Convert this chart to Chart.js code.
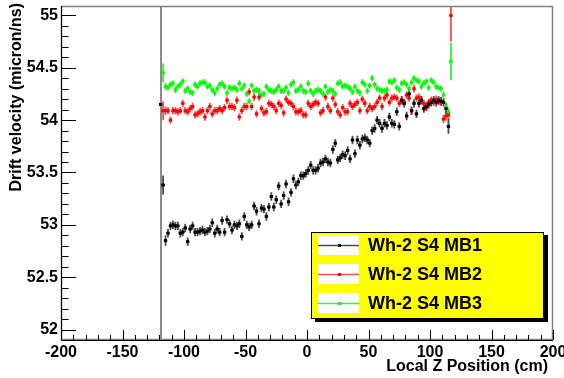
<!DOCTYPE html>
<html>
<head>
<meta charset="utf-8">
<script src="https://cdn.jsdelivr.net/npm/chart.js@4.4.1/dist/chart.umd.min.js"></script>
<style>
  html, body { margin: 0; padding: 0; background: #fff; }
  canvas { display: block; }
</style>
</head>
<body>
<canvas id="chart" width="564" height="378"></canvas>
<script>
// Bin centres along Local Z (cm), 2 cm bins
const zBins = [
  -119, -117, -115, -113, -111, -109, -107, -105, -103, -101,
  -99, -97, -95, -93, -91, -89, -87, -85, -83, -81,
  -79, -77, -75, -73, -71, -69, -67, -65, -63, -61,
  -59, -57, -55, -53, -51, -49, -47, -45, -43, -41,
  -39, -37, -35, -33, -31, -29, -27, -25, -23, -21,
  -19, -17, -15, -13, -11, -9, -7, -5, -3, -1,
  1, 3, 5, 7, 9, 11, 13, 15, 17, 19,
  21, 23, 25, 27, 29, 31, 33, 35, 37, 39,
  41, 43, 45, 47, 49, 51, 53, 55, 57, 59,
  61, 63, 65, 67, 69, 71, 73, 75, 77, 79,
  81, 83, 85, 87, 89, 91, 93, 95, 97, 99,
  101, 103, 105, 107, 109, 111, 113, 115, 117
];
const binHalfWidth = 1;

// Drift velocity (micron/ns)
const mb1Values = [
  54.15, 53.38, 52.85, 52.92, 52.99, 53.00, 52.99, 52.99, 52.92, 52.93,
  52.97, 52.84, 52.96, 52.99, 52.93, 52.93, 52.94, 52.95, 52.93, 52.94,
  52.96, 53.02, 52.92, 52.96, 52.93, 53.04, 52.93, 53.05, 53.01, 52.95,
  53.00, 52.99, 53.01, 52.89, 53.08, 53.00, 52.98, 53.00, 53.18, 53.13,
  53.01, 53.16, 53.15, 53.08, 53.17, 53.27, 53.17, 53.24, 53.37, 53.20,
  53.28, 53.39, 53.22, 53.31, 53.44, 53.38, 53.41, 53.47, 53.47, 53.49,
  53.52, 53.57, 53.52, 53.52, 53.54, 53.59, 53.60, 53.63, 53.60, 53.59,
  53.72, 53.78, 53.62, 53.64, 53.67, 53.66, 53.71, 53.63, 53.81, 53.68,
  53.81, 53.76, 53.82, 53.83, 53.81, 53.78, 53.90, 53.92, 54.00, 53.97,
  53.92, 53.97, 53.95, 54.03, 53.97, 53.96, 54.08, 53.94, 54.19, 54.16,
  54.04, 54.25, 54.09, 54.16, 54.06, 54.16, 54.19, 54.11, 54.13, 54.15,
  54.17, 54.19, 54.17, 54.19, 54.18, 54.17, 54.11, 53.94, null
];
const mb2Values = [
  null, 54.09, 54.09, 54.09, 54.00, 54.09, 54.09, 54.08, 54.09, 54.16,
  54.09, 54.08, 54.11, 54.13, 54.05, 54.06, 54.08, 54.09, 54.03, 54.09,
  54.13, 54.06, 54.09, 54.09, 54.11, 54.09, 54.12, 54.19, 54.13, 54.13,
  54.12, 54.19, 54.03, 54.09, 54.13, 54.13, 54.27, 54.13, 54.22, 54.06,
  54.22, 54.11, 54.07, 54.08, 54.16, 54.15, 54.13, 54.09, 54.16, 54.14,
  54.07, 54.20, 54.17, 54.16, 54.13, 54.08, 54.08, 54.09, 54.05, 54.05,
  54.16, 54.13, 54.15, 54.17, 54.16, 54.07, 54.09, 54.22, 54.13, 54.09,
  54.21, 54.15, 54.08, 54.05, 54.12, 54.08, 54.08, 54.16, 54.13, 54.15,
  54.17, 54.09, 54.20, 54.16, 54.09, 54.13, 54.11, 54.13, 54.17, 54.21,
  54.13, 54.21, 54.24, 54.17, 54.21, 54.22, 54.21, 54.16, 54.19, 54.17,
  54.24, 54.21, 54.09, 54.30, 54.21, 54.22, 54.19, 54.16, 54.12, 54.17,
  54.19, 54.17, 54.20, 54.18, 54.17, 54.01, 54.04, 54.05, 55.00
];
const mb3Values = [
  null, 54.45, 54.32, 54.31, 54.34, 54.35, 54.29, 54.32, 54.34, 54.37,
  54.28, 54.30, 54.27, 54.26, 54.34, 54.32, 54.35, 54.36, 54.36, 54.32,
  54.33, 54.29, 54.26, 54.30, 54.34, 54.35, 54.32, 54.26, 54.31, 54.30,
  54.31, 54.29, 54.35, 54.30, 54.33, 54.25, 54.18, 54.33, 54.28, 54.29,
  54.28, 54.24, 54.25, 54.32, 54.29, 54.28, 54.27, 54.29, 54.32, 54.28,
  54.28, 54.31, 54.26, 54.34, 54.36, 54.28, 54.29, 54.32, 54.28, 54.27,
  54.35, 54.28, 54.25, 54.28, 54.29, 54.28, 54.25, 54.32, 54.27, 54.29,
  54.28, 54.25, 54.35, 54.36, 54.32, 54.33, 54.32, 54.30, 54.27, 54.32,
  54.28, 54.26, 54.36, 54.34, 54.28, 54.33, 54.40, 54.34, 54.30, 54.29,
  54.28, 54.28, 54.29, 54.37, 54.36, 54.38, 54.31, 54.29, 54.35, 54.36,
  54.34, 54.30, 54.36, 54.40, 54.38, 54.37, 54.32, 54.35, 54.37, 54.31,
  54.38, 54.36, 54.32, 54.31, 54.30, 54.24, 54.13, 54.07, 54.56
];

// Statistical errors on each bin
const mb1Errors = [
  0.01, 0.09, 0.05, 0.04, 0.04, 0.04, 0.04, 0.04, 0.04, 0.04,
  0.04, 0.04, 0.04, 0.04, 0.04, 0.04, 0.04, 0.04, 0.04, 0.04,
  0.04, 0.04, 0.04, 0.04, 0.04, 0.04, 0.04, 0.04, 0.04, 0.04,
  0.04, 0.04, 0.04, 0.04, 0.04, 0.04, 0.04, 0.04, 0.04, 0.04,
  0.04, 0.04, 0.04, 0.04, 0.04, 0.04, 0.04, 0.04, 0.04, 0.04,
  0.04, 0.04, 0.04, 0.04, 0.04, 0.04, 0.04, 0.04, 0.04, 0.04,
  0.04, 0.04, 0.04, 0.04, 0.04, 0.04, 0.04, 0.04, 0.04, 0.04,
  0.04, 0.04, 0.04, 0.04, 0.04, 0.04, 0.04, 0.04, 0.04, 0.04,
  0.04, 0.04, 0.04, 0.04, 0.04, 0.04, 0.04, 0.04, 0.04, 0.04,
  0.04, 0.04, 0.04, 0.04, 0.04, 0.04, 0.04, 0.04, 0.04, 0.04,
  0.04, 0.04, 0.04, 0.04, 0.04, 0.04, 0.04, 0.04, 0.04, 0.04,
  0.04, 0.04, 0.04, 0.04, 0.04, 0.04, 0.05, 0.07, null
];
const mb2Errors = [
  null, 0.09, 0.04, 0.035, 0.035, 0.035, 0.035, 0.035, 0.035, 0.035,
  0.035, 0.035, 0.035, 0.035, 0.035, 0.035, 0.035, 0.035, 0.035, 0.035,
  0.035, 0.035, 0.035, 0.035, 0.035, 0.035, 0.035, 0.035, 0.035, 0.035,
  0.035, 0.035, 0.035, 0.035, 0.035, 0.035, 0.035, 0.035, 0.035, 0.035,
  0.035, 0.035, 0.035, 0.035, 0.035, 0.035, 0.035, 0.035, 0.035, 0.035,
  0.035, 0.035, 0.035, 0.035, 0.035, 0.035, 0.035, 0.035, 0.035, 0.035,
  0.035, 0.035, 0.035, 0.035, 0.035, 0.035, 0.035, 0.035, 0.035, 0.035,
  0.035, 0.035, 0.035, 0.035, 0.035, 0.035, 0.035, 0.035, 0.035, 0.035,
  0.035, 0.035, 0.035, 0.035, 0.035, 0.035, 0.035, 0.035, 0.035, 0.035,
  0.035, 0.035, 0.035, 0.035, 0.035, 0.035, 0.035, 0.035, 0.035, 0.035,
  0.035, 0.035, 0.035, 0.035, 0.035, 0.035, 0.035, 0.035, 0.035, 0.035,
  0.035, 0.035, 0.035, 0.035, 0.035, 0.04, 0.045, 0.05, 0.25
];
const mb3Errors = [
  null, 0.09, 0.035, 0.03, 0.03, 0.03, 0.03, 0.03, 0.03, 0.03,
  0.03, 0.03, 0.03, 0.03, 0.03, 0.03, 0.03, 0.03, 0.03, 0.03,
  0.03, 0.03, 0.03, 0.03, 0.03, 0.03, 0.03, 0.03, 0.03, 0.03,
  0.03, 0.03, 0.03, 0.03, 0.03, 0.03, 0.03, 0.03, 0.03, 0.03,
  0.03, 0.03, 0.03, 0.03, 0.03, 0.03, 0.03, 0.03, 0.03, 0.03,
  0.03, 0.03, 0.03, 0.03, 0.03, 0.03, 0.03, 0.03, 0.03, 0.03,
  0.03, 0.03, 0.03, 0.03, 0.03, 0.03, 0.03, 0.03, 0.03, 0.03,
  0.03, 0.03, 0.03, 0.03, 0.03, 0.03, 0.03, 0.03, 0.03, 0.03,
  0.03, 0.03, 0.03, 0.03, 0.03, 0.03, 0.03, 0.03, 0.03, 0.03,
  0.03, 0.03, 0.03, 0.03, 0.03, 0.03, 0.03, 0.03, 0.03, 0.03,
  0.03, 0.03, 0.03, 0.03, 0.03, 0.03, 0.03, 0.03, 0.03, 0.03,
  0.03, 0.03, 0.03, 0.03, 0.03, 0.035, 0.04, 0.05, 0.18
];

const seriesLabels = ['Wh-2 S4 MB1', 'Wh-2 S4 MB2', 'Wh-2 S4 MB3'];
const xTickValues = [-200, -150, -100, -50, 0, 50, 100, 150, 200];
const yTickValues = [52, 52.5, 53, 53.5, 54, 54.5, 55];
const chamberEdgeZ = -118.7;
const xTitle = 'Local Z Position (cm)';
const yTitle = 'Drift velocity (micron/ns)';

const FONT = '"Liberation Sans", Arial, Helvetica, sans-serif';
const colors = ['#000000', '#ff0000', '#00ff00'];
const barColors = ['rgba(0,0,0,0.7)', 'rgba(255,0,0,0.7)', 'rgba(0,230,0,0.75)'];

function toPoints(values, errors) {
    return zBins
        .map((z, i) => ({ x: z, y: values[i], e: errors[i] }))
        .filter(p => p.y !== null);
}

// Error bars (vertical = error, horizontal = bin width), drawn under the markers
const errorBars = {
    id: 'errorBars',
    beforeDatasetsDraw(chart) {
        const { ctx, chartArea: a, scales: { x, y } } = chart;
        ctx.save();
        ctx.beginPath();
        ctx.rect(a.left, a.top, a.width, a.height);
        ctx.clip();

        // vertical line at the chamber edge
        const ex = x.getPixelForValue(chamberEdgeZ);
        ctx.strokeStyle = '#8c8c8c';
        ctx.lineWidth = 2;
        ctx.beginPath();
        ctx.moveTo(ex, a.top);
        ctx.lineTo(ex, a.bottom);
        ctx.stroke();

        chart.data.datasets.forEach((ds, i) => {
            ctx.strokeStyle = barColors[i];
            ctx.lineWidth = 1.8;
            ds.data.forEach(p => {
                const px = x.getPixelForValue(p.x);
                const py = y.getPixelForValue(p.y);
                ctx.beginPath();
                ctx.moveTo(px, y.getPixelForValue(p.y - p.e));
                ctx.lineTo(px, y.getPixelForValue(p.y + p.e));
                ctx.moveTo(x.getPixelForValue(p.x - binHalfWidth) - 0.5, py);
                ctx.lineTo(x.getPixelForValue(p.x + binHalfWidth) + 0.5, py);
                ctx.stroke();
            });
        });
        ctx.restore();
    }
};

// ROOT-like frame, inner tick marks, axis titles
const rootAxes = {
    id: 'rootAxes',
    afterDraw(chart) {
        const { ctx, chartArea: a, scales: { x, y } } = chart;
        ctx.save();

        ctx.strokeStyle = '#808080';
        ctx.lineWidth = 1.5;
        ctx.strokeRect(a.left + 0.5, a.top + 0.5, a.width - 1, a.height - 1);

        ctx.strokeStyle = '#000';
        ctx.lineWidth = 1;
        ctx.beginPath();
        ctx.moveTo(a.left + 0.5, a.top);
        ctx.lineTo(a.left + 0.5, a.bottom + 0.5);
        ctx.lineTo(a.right, a.bottom + 0.5);

        // y: primary every 0.5, secondary every 0.1
        for (let k = 0; k <= 30; k++) {
            const py = Math.round(y.getPixelForValue(52 + k * 0.1)) + 0.5;
            const len = k % 5 === 0 ? 15 : 7.5;
            ctx.moveTo(a.left, py);
            ctx.lineTo(a.left + len, py);
        }
        // x: primary every 50, secondary every 10
        for (let k = 0; k <= 40; k++) {
            const px = Math.round(x.getPixelForValue(-200 + k * 10)) + 0.5;
            const len = k % 5 === 0 ? 10 : 5;
            ctx.moveTo(px, a.bottom);
            ctx.lineTo(px, a.bottom - len);
        }
        ctx.stroke();

        ctx.fillStyle = '#000';
        ctx.font = 'bold 16px ' + FONT;
        ctx.textAlign = 'right';
        ctx.textBaseline = 'middle';
        ctx.fillText(xTitle, 548, 367);

        ctx.translate(17, 3);
        ctx.rotate(-Math.PI / 2);
        ctx.fillText(yTitle, 0, 0);
        ctx.restore();
    }
};

// Yellow ROOT legend box with shadow
const rootLegend = {
    id: 'rootLegend',
    afterDraw(chart) {
        const ctx = chart.ctx;
        ctx.save();
        ctx.fillStyle = '#000';
        ctx.fillRect(315, 235, 233, 87);
        ctx.fillStyle = '#ffff00';
        ctx.fillRect(311, 232, 233, 87);
        ctx.strokeStyle = '#000';
        ctx.lineWidth = 1;
        ctx.strokeRect(311.5, 232.5, 232, 86);

        chart.data.datasets.forEach((ds, i) => {
            const cy = 245 + i * 29;
            ctx.fillStyle = '#fff';
            ctx.fillRect(318, cy - 10, 41, 20);
            ctx.strokeStyle = barColors[i];
            ctx.lineWidth = 1.5;
            ctx.beginPath();
            ctx.moveTo(318, cy + 0.5);
            ctx.lineTo(359, cy + 0.5);
            ctx.stroke();
            ctx.fillStyle = colors[i];
            ctx.fillRect(338, cy - 1, 3, 3);

            ctx.fillStyle = '#000';
            ctx.font = 'bold 18px ' + FONT;
            ctx.textAlign = 'left';
            ctx.textBaseline = 'middle';
            ctx.fillText(ds.label, 368, cy + 1);
        });
        ctx.restore();
    }
};

const seriesValues = [mb1Values, mb2Values, mb3Values];
const seriesErrors = [mb1Errors, mb2Errors, mb3Errors];

new Chart(document.getElementById('chart'), {
    type: 'scatter',
    data: {
        datasets: seriesLabels.map((label, i) => ({
            label: label,
            data: toPoints(seriesValues[i], seriesErrors[i]),
            backgroundColor: colors[i],
            borderColor: colors[i],
            borderWidth: 0,
            pointStyle: 'rect',
            pointRadius: 2.2,
            pointHoverRadius: 2.2
        }))
    },
    options: {
        responsive: false,
        devicePixelRatio: 1,
        animation: false,
        events: [],
        layout: { autoPadding: false, padding: { top: 6, right: 11, left: 0, bottom: 0 } },
        plugins: { legend: { display: false }, tooltip: { enabled: false } },
        scales: {
            x: {
                type: 'linear',
                min: -200,
                max: 200,
                grid: { display: false, drawTicks: false },
                border: { display: false },
                afterBuildTicks: s => { s.ticks = xTickValues.map(v => ({ value: v })); },
                afterFit: s => { s.height = 38; s.paddingLeft = 0; s.paddingRight = 0; },
                ticks: {
                    padding: 3,
                    color: '#000',
                    maxRotation: 0,
                    autoSkip: false,
                    font: { family: FONT, size: 16, weight: 'bold' },
                    callback: v => String(v)
                }
            },
            y: {
                type: 'linear',
                min: 51.9,
                max: 55.09,
                grid: { display: false, drawTicks: false },
                border: { display: false },
                afterBuildTicks: s => { s.ticks = yTickValues.map(v => ({ value: v })); },
                afterFit: s => { s.width = 61; s.paddingTop = 0; s.paddingBottom = 0; },
                ticks: {
                    padding: 3,
                    color: '#000',
                    autoSkip: false,
                    font: { family: FONT, size: 16, weight: 'bold' },
                    callback: v => String(v)
                }
            }
        }
    },
    plugins: [errorBars, rootAxes, rootLegend]
});
</script>
</body>
</html>
